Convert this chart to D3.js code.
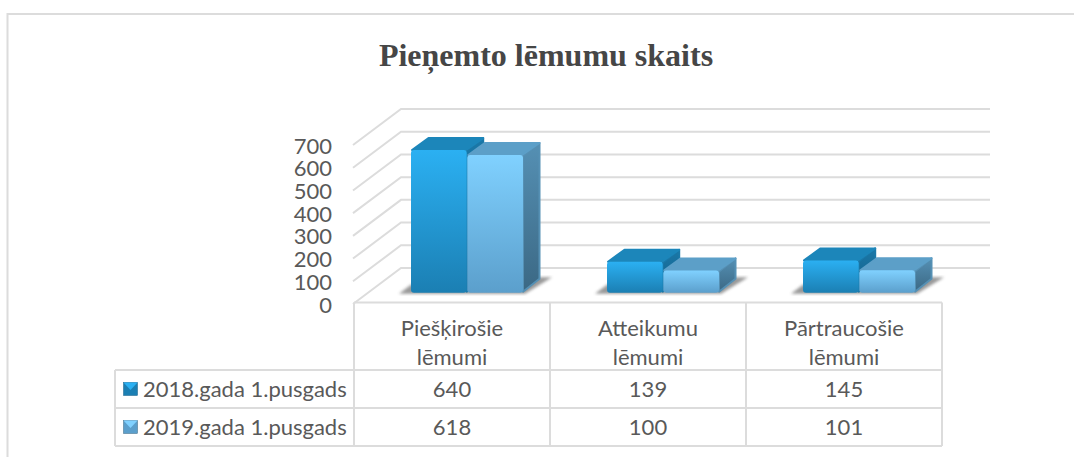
<!DOCTYPE html>
<html>
    <head>
        <title>Pieņemto lēmumu skaits</title>
        <meta charset="UTF-8">
        <script src="https://d3js.org/d3.v7.min.js"></script>
        <style>
            body {margin:0;background:#fff;}
            svg {display:block;}
            .cell {font-family:Lato,"Open Sans",sans-serif;font-size:22px;fill:#595959;}
        </style>
    </head>
    <body>
        <script>
            var title = "Pieņemto lēmumu skaits";
            var categories = [["Piešķirošie","lēmumi"],["Atteikumu","lēmumi"],["Pārtraucošie","lēmumi"]];
            var seriesNames = ["2018.gada 1.pusgads","2019.gada 1.pusgads"];
            var values2018 = [640,139,145];
            var values2019 = [618,100,101];
            var valueTicks = [0,100,200,300,400,500,600,700];

            var w = 1074, h = 457;
            var depthX = 48, depthY = 36;      // floor depth of the 3d box
            var barDX = 17.5, barDY = 13;      // depth of one bar
            var floorY = 292.7;

            var svg = d3.select("body").append("svg").attr("width",w).attr("height",h);
            var defs = svg.append("defs");

            var colors = [
                {top:"#2bb0f2",bottom:"#1b7fb3",lid:"#1c86ba",sideTop:"#1a78a8",sideBottom:"#155f88"},
                {top:"#80d1ff",bottom:"#5b9fcc",lid:"#5c9fc8",sideTop:"#5590b4",sideBottom:"#3b6884"}
            ];
            colors.forEach(function(c,i){
                var g = defs.append("linearGradient").attr("id","front"+i).attr("x1",0).attr("y1",0).attr("x2",0).attr("y2",1);
                g.append("stop").attr("offset",0).attr("stop-color",c.top);
                g.append("stop").attr("offset",1).attr("stop-color",c.bottom);
                var s = defs.append("linearGradient").attr("id","side"+i).attr("x1",0).attr("y1",0).attr("x2",0).attr("y2",1);
                s.append("stop").attr("offset",0).attr("stop-color",c.sideTop);
                s.append("stop").attr("offset",1).attr("stop-color",c.sideBottom);
            });
            defs.append("filter").attr("id","blur").append("feGaussianBlur").attr("stdDeviation",1.6);

            // outer frame, open on the right and at the bottom
            svg.append("path").attr("d","M7.5,457V14H1074").attr("fill","none").attr("stroke","#dcdcdc").attr("stroke-width",2);

            svg.append("text")
                    .text(title)
                    .attr("x",546)
                    .attr("y",66)
                    .attr("text-anchor","middle")
                    .attr("font-family","'Liberation Serif',serif")
                    .attr("font-weight","bold")
                    .attr("font-size",32)
                    .attr("fill","#464646");

            // scales
            var wallY = d3.scaleLinear().domain([0,700]).range([268,109]);
            var barH = d3.scaleLinear().domain([0,700]).range([0,156]);
            var axisY = d3.scaleLinear().domain([0,700]).range([305,146]);
            var colX = d3.scaleBand().domain(d3.range(categories.length)).range([354,942]);
            var barX = d3.scaleBand().domain(d3.range(seriesNames.length)).range([57,169]).paddingInner(0.01);

            // wall and floor lines
            var grid = svg.append("g").attr("fill","none").attr("stroke","#dcdcdc").attr("stroke-width",2);
            grid.selectAll("path")
                    .data(valueTicks)
                    .enter()
                    .append("path")
                    .attr("d",function(d){
                        var y = wallY(d);
                        return "M"+(401-depthX)+","+(y+depthY)+"L401,"+y+"H990";
                    });

            var yAxis = d3.axisLeft(axisY).tickValues(valueTicks).tickSize(0).tickPadding(0);
            var ax = svg.append("g").attr("transform","translate(332,0)").call(yAxis);
            ax.select(".domain").remove();
            ax.selectAll("text").attr("class","cell").attr("font-family",null).attr("font-size",null);

            // bars
            var bars = [];
            [values2018,values2019].forEach(function(vals,s){
                vals.forEach(function(v,c){
                    bars.push({s:s,c:c,v:v,x:colX(c)+barX(s),bw:barX.bandwidth(),y:floorY-barH(v)});
                });
            });

            // floor shadow of each bar pair
            svg.append("g").selectAll("polygon")
                    .data(d3.range(categories.length))
                    .enter()
                    .append("polygon")
                    .attr("points",function(c){
                        var l = colX(c)+barX(0), r = colX(c)+barX(1)+barX.bandwidth();
                        return [[l-12,floorY+1],[r+2,floorY+1],[r+29,floorY-15.5],[r,floorY-15.5],[l,floorY-8]].join(" ");
                    })
                    .attr("fill","#7f7f7f")
                    .attr("opacity",0.8)
                    .attr("filter","url(#blur)");

            var barG = svg.append("g").selectAll("g")
                    .data(bars)
                    .enter()
                    .append("g");

            barG.append("polygon")
                    .attr("points",function(d){
                        var r = d.x+d.bw;
                        return [[r,d.y+1],[r+barDX-1,d.y-barDY+1],[r+barDX-1,floorY-barDY-1],[r,floorY-1]].join(" ");
                    })
                    .attr("fill",function(d){return "url(#side"+d.s+")";})
                    .attr("stroke",function(d){return colors[d.s].sideTop;})
                    .attr("stroke-width",2)
                    .attr("stroke-linejoin","round");
            barG.append("polygon")
                    .attr("points",function(d){
                        var r = d.x+d.bw;
                        return [[d.x+1,d.y],[d.x+barDX,d.y-barDY+1],[r+barDX-1,d.y-barDY+1],[r-1,d.y]].join(" ");
                    })
                    .attr("fill",function(d){return colors[d.s].lid;})
                    .attr("stroke",function(d){return colors[d.s].lid;})
                    .attr("stroke-width",2)
                    .attr("stroke-linejoin","round");
            barG.append("rect")
                    .attr("x",function(d){return d.x;})
                    .attr("y",function(d){return d.y;})
                    .attr("width",function(d){return d.bw;})
                    .attr("height",function(d){return floorY-d.y;})
                    .attr("rx",3)
                    .attr("fill",function(d){return "url(#front"+d.s+")";});

            // data table
            var rowY = [370,408,446];
            var table = svg.append("g").attr("fill","none").attr("stroke","#dcdcdc").attr("stroke-width",2);
            table.append("path").attr("d","M354,302.5H942");
            table.selectAll(".row")
                    .data(rowY)
                    .enter()
                    .append("path")
                    .attr("class","row")
                    .attr("d",function(d){return "M115,"+d+"H942";});
            table.selectAll(".col")
                    .data(d3.range(categories.length+1))
                    .enter()
                    .append("path")
                    .attr("class","col")
                    .attr("d",function(i){
                        var x = i<categories.length ? colX(i) : 942;
                        return "M"+x+",302.5V446";
                    });
            table.append("path").attr("d","M115,370V446");

            var cell = svg.append("g").attr("text-anchor","middle");
            categories.forEach(function(lines,c){
                var cx = colX(c)+colX.bandwidth()/2;
                lines.forEach(function(t,i){
                    cell.append("text").attr("class","cell").text(t)
                            .attr("x",cx).attr("y",336+i*29);
                });
                [values2018,values2019].forEach(function(vals,s){
                    cell.append("text").attr("class","cell").text(vals[c])
                            .attr("x",cx).attr("y",397+s*38);
                });
            });

            seriesNames.forEach(function(name,s){
                var y = rowY[s];
                svg.append("rect").attr("x",123.5).attr("y",y+12.5).attr("width",14).attr("height",13)
                        .attr("fill",s==0 ? "#1b7fb3" : "#5b9fcc").attr("stroke",colors[s].sideBottom).attr("stroke-width",0.5);
                svg.append("polygon")
                        .attr("points",[[123.5,y+12.5],[137.5,y+12.5],[130.5,y+20]].join(" "))
                        .attr("fill",colors[s].top);
                svg.append("text").attr("class","cell").text(name)
                        .attr("x",143).attr("y",y+27);
            });
        </script>
    </body>
</html>
